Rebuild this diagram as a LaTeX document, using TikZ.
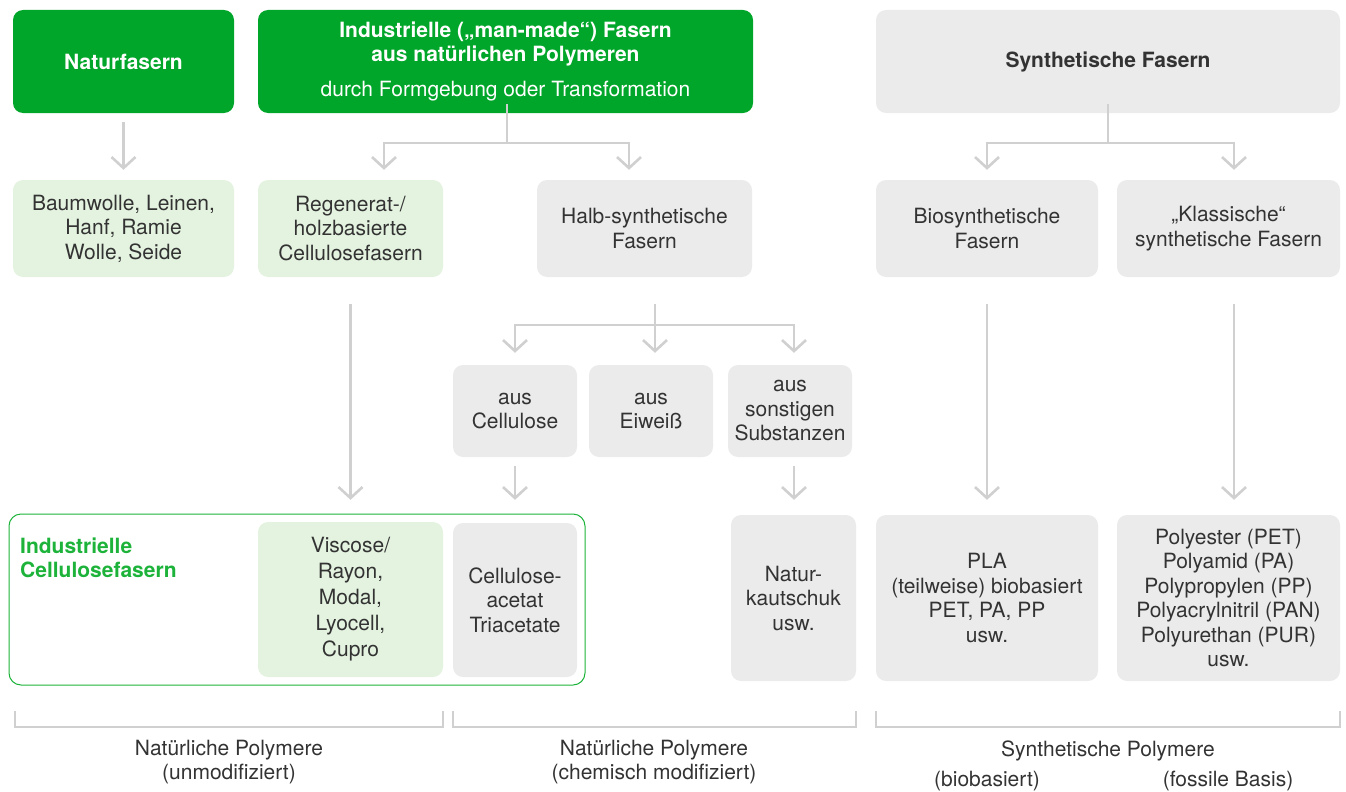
\documentclass[tikz,border=0pt]{standalone}
\usepackage{fontspec}
\setmainfont{TeX Gyre Heros}
\usetikzlibrary{arrows.meta}
\definecolor{fgreen}{HTML}{00A629}
\definecolor{lgreen}{HTML}{E4F3E0}
\definecolor{lgrey}{HTML}{EBEBEB}
\definecolor{lnk}{HTML}{D0D0D0}
\definecolor{txt}{HTML}{333333}
\definecolor{tgreen}{HTML}{1DB33A}
\begin{document}
\begin{tikzpicture}[x=1pt,y=-1pt,
  every node/.style={font=\fontsize{21}{24.5}\selectfont, align=center, text=txt, inner sep=0pt},
  fbox/.style={rectangle, rounded corners=10pt},
  dark/.style={fbox, fill=fgreen, text=white},
  pale/.style={fbox, fill=lgreen},
  grey/.style={fbox, fill=lgrey},
  wire/.style={draw=lnk, line width=2.6pt},
  arr/.style={wire, -{Straight Barb[length=11pt,width=24pt,line width=2.6pt]}},
  brk/.style={draw=lnk, line width=2.6pt},
  bold/.style={font=\bfseries\fontsize{21}{24}\selectfont}]
\useasboundingbox (0,0) rectangle (1346,792);

% frame around the industrial cellulose fibres
\node[draw=tgreen, line width=1pt, rounded corners=12pt, minimum width=576pt, minimum height=171pt] (frame) at (297,599.5) {};
\node[anchor=west, align=left, text=tgreen, bold] (framelbl) at (20,558) {Industrielle\\Cellulosefasern};

% top row
\node[dark, bold, minimum width=221pt, minimum height=103pt] (nat) at (123.5,61.5) {Naturfasern};
\node[dark, minimum width=495pt, minimum height=103pt] (ind) at (505.5,61.5)
  {\textbf{Industrielle („man-made“) Fasern}\\[-0.5pt]\textbf{aus natürlichen Polymeren}\\[10pt]durch Formgebung oder Transformation};
\node[grey, bold, minimum width=464pt, minimum height=103pt] (syn) at (1108,61.5) {Synthetische Fasern};

% second row
\node[pale, minimum width=221pt, minimum height=97pt] (baum) at (123.5,228.5) {Baumwolle, Leinen,\\Hanf, Ramie\\Wolle, Seide};
\node[pale, minimum width=185pt, minimum height=97pt] (reg) at (350.5,228.5) {Regenerat-/\\holzbasierte\\Cellulosefasern};
\node[grey, minimum width=215pt, minimum height=97pt] (halb) at (644.5,228.5) {Halb-synthetische\\Fasern};
\node[grey, minimum width=222pt, minimum height=97pt] (bio) at (987,228.5) {Biosynthetische\\Fasern};
\node[grey, minimum width=223pt, minimum height=97pt] (klass) at (1228.5,228.5) {„Klassische“\\synthetische Fasern};

% third row
\node[grey, minimum width=124pt, minimum height=92pt] (acell) at (515,411) {aus\\Cellulose};
\node[grey, minimum width=124pt, minimum height=92pt] (aeiw) at (651,411) {aus\\Eiweiß};
\node[grey, minimum width=124pt, minimum height=92pt] (asons) at (790,411) {aus\\sonstigen\\Substanzen};

% bottom row
\node[pale, minimum width=185pt, minimum height=155pt, font=\fontsize{21}{26}\selectfont] (visc) at (350.5,599.5) {Viscose/\\Rayon,\\Modal,\\Lyocell,\\Cupro};
\node[grey, minimum width=124pt, minimum height=154pt] (acet) at (515,600) {Cellulose-\\acetat\\Triacetate};
\node[grey, minimum width=125pt, minimum height=166pt] (kaut) at (793.5,598) {Natur-\\kautschuk\\usw.};
\node[grey, minimum width=222pt, minimum height=166pt] (pla) at (987,598) {PLA\\(teilweise) biobasiert\\PET, PA, PP\\usw.};
\node[grey, minimum width=223pt, minimum height=166pt] (poly) at (1228.5,598) {Polyester (PET)\\Polyamid (PA)\\Polypropylen (PP)\\Polyacrylnitril (PAN)\\Polyurethan (PUR)\\usw.};

% connectors
\draw[arr, shorten <=9pt, shorten >=10pt] (nat) -- (baum);

\coordinate (j1) at (507,143);
\draw[wire] ([yshift=9pt]ind.south -| j1) -- (j1);
\draw[arr, shorten >=10pt] (j1) -| (384,0 |- reg.north);
\draw[arr, shorten >=10pt] (j1) -| (629,0 |- halb.north);

\coordinate (j2) at (1108,143);
\draw[wire] ([yshift=9pt]syn.south -| j2) -- (j2);
\draw[arr, shorten >=10pt] (j2) -| (bio.north);
\draw[arr, shorten >=10pt] (j2) -| (1234,0 |- klass.north);

\coordinate (j3) at (655,325);
\draw[wire] (655,0 |- halb.south) ++(0,27) -- (j3);
\draw[arr, shorten >=12pt] (j3) -| (acell.north);
\draw[arr, shorten >=12pt] (j3) -- (655,0 |- aeiw.north);
\draw[arr, shorten >=12pt] (j3) -| (794,0 |- asons.north);

\draw[arr, shorten <=27pt, shorten >=22pt] (reg) -- (reg |- visc.north);
\draw[arr, shorten <=9pt, shorten >=23pt] (acell) -- (acet);
\draw[arr, shorten <=9pt, shorten >=15pt] (794,0 |- asons.south) -- (794,0 |- kaut.north);
\draw[arr, shorten <=27pt, shorten >=15pt] (bio) -- (pla);
\draw[arr, shorten <=27pt, shorten >=15pt] (1234,0 |- klass.south) -- (1234,0 |- poly.north);

% brackets along the bottom
\draw[brk] (15,711) -- (15,727) -- (443,727) -- (443,711);
\draw[brk] (453,711) -- (453,727) -- (856,727) -- (856,711);
\draw[brk] (876,711) -- (876,727) -- (1340,727) -- (1340,711);

\node (l1) at (229,762) {Natürliche Polymere\\(unmodifiziert)};
\node (l2) at (654,762) {Natürliche Polymere\\(chemisch modifiziert)};
\node (l3) at (1108,751) {Synthetische Polymere};
\node (l4) at (987,781) {(biobasiert)};
\node (l5) at (1228,781) {(fossile Basis)};
\end{tikzpicture}
\end{document}
